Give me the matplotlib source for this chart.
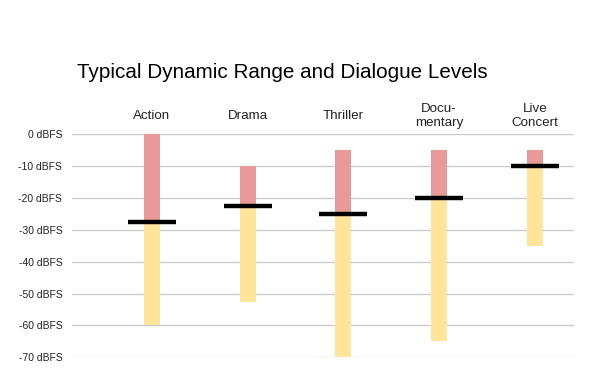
import matplotlib
matplotlib.use("Agg")
import matplotlib.pyplot as plt

categories = ["Action", "Drama", "Thriller", "Docu-\nmentary", "Live\nConcert"]
peak_levels = [0, -10, -5, -5, -5]
dialogue_levels = [-27.5, -22.5, -25, -20, -10]
floor_levels = [-60, -52.5, -70, -65, -35]
yticks = [0, -10, -20, -30, -40, -50, -60, -70]
ytick_labels = [f"{v} dBFS" for v in yticks]

plt.rcParams['font.family'] = ['Liberation Sans', 'DejaVu Sans']

fig = plt.figure(figsize=(5.95, 3.70), dpi=100)
ax = fig.add_axes([72/595, 1-357.3/370, (574-72)/595, (357.3-134.3)/370])

x = list(range(len(categories)))
bw = 0.167
# red: peak to dialogue
ax.bar(x, [p - d for p, d in zip(peak_levels, dialogue_levels)], bottom=dialogue_levels,
       width=bw, color="#EA9999", zorder=2)
# yellow: dialogue to floor
ax.bar(x, [d - f for d, f in zip(dialogue_levels, floor_levels)], bottom=floor_levels,
       width=bw, color="#FFE599", zorder=2)
# dialogue line
for xi, d in zip(x, dialogue_levels):
    ax.plot([xi - 0.25, xi + 0.25], [d, d], color="black", lw=3.2, solid_capstyle="butt", zorder=3)

ax.set_xlim(-0.836, 4.41)
ax.set_ylim(-70, 0)
ax.set_yticks(yticks)
ax.set_yticklabels(ytick_labels, fontsize=7.5, color="#222222")
ax.tick_params(axis='y', length=0, pad=7)
ax.set_xticks([])
ax.grid(axis='y', color="#cccccc", lw=1, zorder=0)
for s in ax.spines.values():
    s.set_visible(False)

fig.canvas.draw()
for xi, c in zip(x, categories):
    fig_y = 1 - 116/370
    xd = ax.transData.transform((xi, 0))[0]
    fig.text(xd / fig.dpi / 5.95, fig_y, c, ha="center", va="center", fontsize=9.6,
             color="#222222", linespacing=1.2)

fig.text(77/595, 1 - 73/370, "Typical Dynamic Range and Dialogue Levels", fontsize=14.85,
         ha="left", va="center", color="#000000")

fig.savefig("out.png", dpi=100, facecolor="white")
